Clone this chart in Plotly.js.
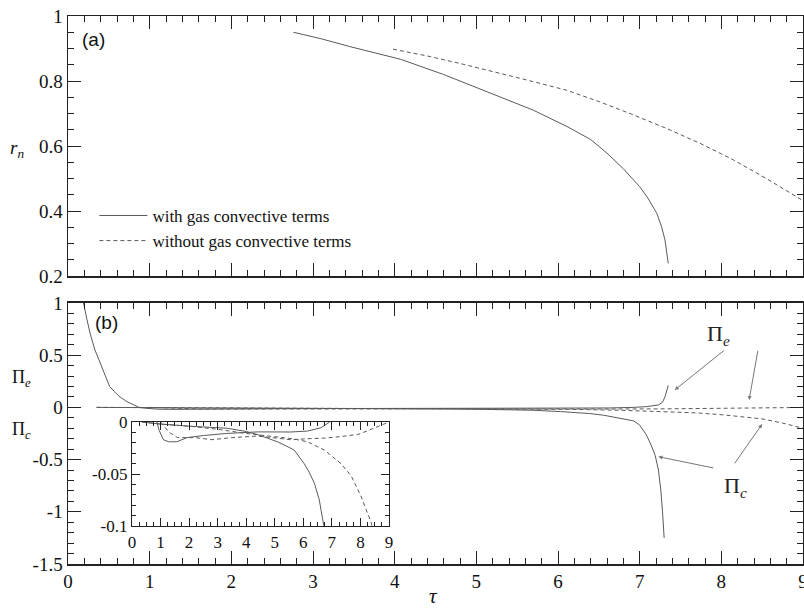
<!DOCTYPE html>
<html>
<head>
<meta charset="utf-8">
<script src="https://cdn.plot.ly/plotly-3.0.1.min.js"></script>
<style>html,body{margin:0;padding:0;background:#fff;}#chart{width:804px;height:612px;}</style>
</head>
<body>
<div id="chart"></div>
<script>
// ---- panel (a): r_n versus tau ----
const tauRnWith    = [2.76, 3.1, 3.45, 3.8, 4.07, 4.6, 5.29, 5.7, 6.11, 6.4, 6.6, 6.8, 7.0, 7.1, 7.21, 7.27, 7.31, 7.35];
const rnWith       = [0.95, 0.93, 0.906, 0.885, 0.867, 0.82, 0.752, 0.71, 0.66, 0.62, 0.578, 0.53, 0.475, 0.44, 0.393, 0.35, 0.311, 0.239];
const tauRnWithout = [3.98, 4.4, 4.8, 5.2, 5.62, 6.1, 6.51, 6.9, 7.33, 7.75, 8.15, 8.55, 8.92, 9.0];
const rnWithout    = [0.898, 0.877, 0.854, 0.83, 0.803, 0.772, 0.736, 0.698, 0.654, 0.607, 0.557, 0.5, 0.444, 0.432];

// ---- panel (b): Pi_e and Pi_c versus tau ----
const tauPeWith = [0.17, 0.19, 0.23, 0.27, 0.33, 0.4, 0.46, 0.51, 0.57, 0.62, 0.72, 0.8, 0.87, 0.95, 1.1, 1.28, 1.57, 1.93, 2.5, 3.3, 4.39, 5.56, 6.15, 6.62, 6.92, 7.08, 7.23, 7.28, 7.31, 7.35];
const peWith    = [1.1, 1.0, 0.85, 0.71, 0.55, 0.42, 0.3, 0.2, 0.15, 0.11, 0.055, 0.025, 0.0, -0.008, -0.017, -0.019, -0.019, -0.015, -0.013, -0.011, -0.0095, -0.0096, -0.0087, -0.0055, 0, 0.007, 0.023, 0.05, 0.10, 0.21];
const tauPcWith = [0.35, 1.0, 2.0, 2.75, 3.33, 3.92, 4.39, 4.74, 5.09, 5.4, 5.68, 6.03, 6.2, 6.39, 6.56, 6.68, 6.8, 6.93, 7.0, 7.08, 7.14, 7.19, 7.23, 7.26, 7.28, 7.3];
const pcWith    = [0, -0.002, -0.004, -0.0055, -0.006, -0.0087, -0.012, -0.0155, -0.019, -0.023, -0.027, -0.040, -0.048, -0.059, -0.075, -0.094, -0.11, -0.13, -0.17, -0.26, -0.36, -0.46, -0.6, -0.8, -1.0, -1.25];
const tauPeWithout = [1.0, 1.3, 1.6, 2.2, 2.8, 3.5, 4.39, 5.0, 5.56, 6.2, 6.74, 7.3, 7.91, 8.38, 8.85, 9.0];
const peWithout    = [0, -0.01, -0.015, -0.015, -0.017, -0.015, -0.0135, -0.015, -0.017, -0.016, -0.0155, -0.014, -0.012, -0.007, -0.002, 0.0];
const tauPcWithout = [0.35, 1.0, 2.0, 3.0, 4.0, 5.0, 5.6, 6.15, 6.74, 7.32, 7.68, 8.03, 8.26, 8.38, 8.5, 8.75, 9.0];
const pcWithout    = [0, -0.002, -0.004, -0.007, -0.011, -0.014, -0.016, -0.019, -0.027, -0.040, -0.052, -0.072, -0.088, -0.097, -0.11, -0.15, -0.2];

// tick labels
const xTicks = [0,1,2,3,4,5,6,7,8,9];
const xTickText = ["0","1","2","3","4","5","6","7","8","9"];
const yTopTicks = [0.2, 0.4, 0.6, 0.8, 1];
const yTopText = ["0.2","0.4","0.6","0.8","1"];
const yBotTicks = [-1.5, -1, -0.5, 0, 0.5, 1];
const yBotText = ["-1.5","-1","-0.5","0","0.5","1"];
const yInsetTicks = [-0.1, -0.05, 0];
const yInsetText = ["-0.1","-0.05","0"];
const legendNames = ["with gas convective terms", "without gas convective terms"];

const lineColor = "#5a5a5a";
const withLine = {color: lineColor, width: 1};
const withoutLine = {color: lineColor, width: 1, dash: "4px,3px"};

const traces = [
  {x: tauRnWith, y: rnWith, xaxis: "x", yaxis: "y", mode: "lines", line: withLine, name: legendNames[0]},
  {x: tauRnWithout, y: rnWithout, xaxis: "x", yaxis: "y", mode: "lines", line: withoutLine, name: legendNames[1]},
  {x: tauPeWith, y: peWith, xaxis: "x2", yaxis: "y2", mode: "lines", line: withLine, showlegend: false},
  {x: tauPcWith, y: pcWith, xaxis: "x2", yaxis: "y2", mode: "lines", line: withLine, showlegend: false},
  {x: tauPeWithout, y: peWithout, xaxis: "x2", yaxis: "y2", mode: "lines", line: withoutLine, showlegend: false},
  {x: tauPcWithout, y: pcWithout, xaxis: "x2", yaxis: "y2", mode: "lines", line: withoutLine, showlegend: false},
  {x: tauPeWith, y: peWith, xaxis: "x3", yaxis: "y3", mode: "lines", line: withLine, showlegend: false},
  {x: tauPcWith, y: pcWith, xaxis: "x3", yaxis: "y3", mode: "lines", line: withLine, showlegend: false},
  {x: tauPeWithout, y: peWithout, xaxis: "x3", yaxis: "y3", mode: "lines", line: withoutLine, showlegend: false},
  {x: tauPcWithout, y: pcWithout, xaxis: "x3", yaxis: "y3", mode: "lines", line: withoutLine, showlegend: false}
];

const serif = "Liberation Serif";
function ax(extra, fontSize, minorDtick, minorTick0, minorLen){
  const base = {
    showline: true, linecolor: "#222", linewidth: 1.5, mirror: "allticks",
    ticks: "inside", ticklen: 13, tickcolor: "#222", tickwidth: 1,
    showgrid: false, zeroline: false, ticklabeloverflow: "allow",
    tickfont: {family: serif, size: fontSize, color: "#111"},
    tickmode: "array",
    minor: {tickmode: "linear", tick0: minorTick0, dtick: minorDtick, ticklen: minorLen, ticks: "inside", tickcolor: "#222", showgrid: false}
  };
  return Object.assign(base, extra);
}

const layout = {
  width: 804, height: 612,
  margin: {l: 68, r: 1, t: 16, b: 48},
  paper_bgcolor: "#fff", plot_bgcolor: "#fff",
  font: {family: serif, size: 17, color: "#111"},
  showlegend: true,
  legend: {x: 0.0359, y: 0.668, xanchor: "left", yanchor: "top", bgcolor: "rgba(0,0,0,0)", itemwidth: 48,
           font: {family: serif, size: 17, color: "#111"}, tracegroupgap: 0},
  xaxis: ax({domain: [0, 1], anchor: "y", range: [0, 9], tickvals: xTicks, ticktext: xTickText, showticklabels: false}, 19, 0.2, 0, 6),
  yaxis: ax({domain: [0.5255, 1], anchor: "x", range: [0.2, 1], tickvals: yTopTicks, ticktext: yTopText}, 19, 0.05, 0.2, 6),
  xaxis2: ax({domain: [0, 1], anchor: "y2", range: [0, 9], tickvals: xTicks, ticktext: xTickText}, 19, 0.2, 0, 6),
  yaxis2: ax({domain: [0, 0.4763], anchor: "x2", range: [-1.5, 1], tickvals: yBotTicks, ticktext: yBotText}, 19, 0.1, -1.5, 6),
  xaxis3: ax({domain: [0.0871, 0.4367], anchor: "y3", range: [0, 9], tickvals: xTicks, ticktext: xTickText,
              ticklen: 8, linewidth: 1.2}, 17, 0.25, 0, 4),
  yaxis3: ax({domain: [0.0693, 0.2591], anchor: "x3", range: [-0.1, 0], tickvals: yInsetTicks, ticktext: yInsetText,
              ticklen: 8, linewidth: 1.2}, 17, 0.01, -0.1, 4),
  annotations: [
    {xref: "paper", yref: "paper", x: 0.0163, y: 0.958, xanchor: "left", yanchor: "middle", showarrow: false,
     text: "(a)", font: {family: "Liberation Sans", size: 19, color: "#111"}},
    {xref: "paper", yref: "paper", x: 0.034, y: 0.4398, xanchor: "left", yanchor: "middle", showarrow: false,
     text: "(b)", font: {family: "Liberation Sans", size: 19, color: "#111"}},
    {xref: "paper", yref: "paper", x: -0.0694, y: 0.757, xanchor: "center", yanchor: "middle", showarrow: false,
     text: "<i>r<sub>n</sub></i>", font: {family: serif, size: 19, color: "#111"}},
    {xref: "paper", yref: "paper", x: -0.0626, y: 0.339, xanchor: "center", yanchor: "middle", showarrow: false,
     text: "Π<sub><i>e</i></sub>", font: {family: serif, size: 18, color: "#111"}},
    {xref: "paper", yref: "paper", x: -0.0626, y: 0.2445, xanchor: "center", yanchor: "middle", showarrow: false,
     text: "Π<sub><i>c</i></sub>", font: {family: serif, size: 18, color: "#111"}},
    {xref: "paper", yref: "paper", x: 0.4966, y: -0.058, xanchor: "center", yanchor: "middle", showarrow: false,
     text: "<i>τ</i>", font: {family: serif, size: 21, color: "#111"}},
    {xref: "x2", yref: "y2", x: 7.97, y: 0.69, xanchor: "center", yanchor: "middle", showarrow: false,
     text: "Π<sub><i>e</i></sub>", font: {family: serif, size: 22, color: "#222"}},
    {xref: "x2", yref: "y2", x: 8.17, y: -0.76, xanchor: "center", yanchor: "middle", showarrow: false,
     text: "Π<sub><i>c</i></sub>", font: {family: serif, size: 22, color: "#222"}},
    {xref: "x2", yref: "y2", axref: "x2", ayref: "y2", x: 7.43, y: 0.167, ax: 8.05, ay: 0.556, text: "",
     showarrow: true, arrowhead: 2, arrowsize: 0.8, arrowwidth: 1, arrowcolor: "#777"},
    {xref: "x2", yref: "y2", axref: "x2", ayref: "y2", x: 8.34, y: 0.07, ax: 8.45, ay: 0.556, text: "",
     showarrow: true, arrowhead: 2, arrowsize: 0.8, arrowwidth: 1, arrowcolor: "#777"},
    {xref: "x2", yref: "y2", axref: "x2", ayref: "y2", x: 7.23, y: -0.472, ax: 7.92, ay: -0.583, text: "",
     showarrow: true, arrowhead: 2, arrowsize: 0.8, arrowwidth: 1, arrowcolor: "#777"},
    {xref: "x2", yref: "y2", axref: "x2", ayref: "y2", x: 8.5, y: -0.16, ax: 8.15, ay: -0.55, text: "",
     showarrow: true, arrowhead: 2, arrowsize: 0.8, arrowwidth: 1, arrowcolor: "#777"}
  ]
};

Plotly.newPlot("chart", traces, layout, {displayModeBar: false, staticPlot: true});
</script>
</body>
</html>
